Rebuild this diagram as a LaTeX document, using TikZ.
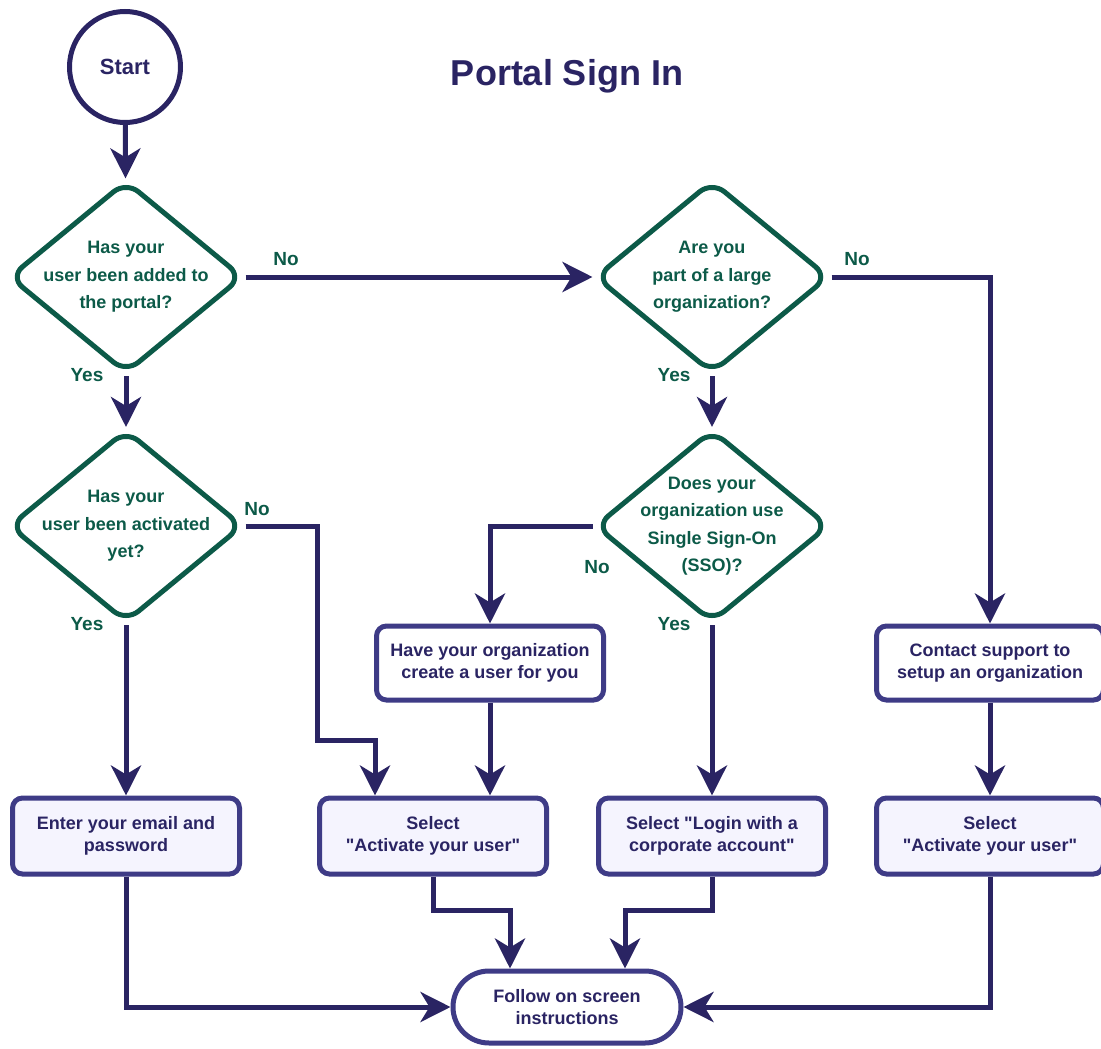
\documentclass[tikz,border=0pt]{standalone}
\usepackage{fontspec}
\setmainfont{Liberation Sans}
\usetikzlibrary{shapes.geometric,arrows.meta,positioning}
\definecolor{navy}{HTML}{2A2463}
\definecolor{boxline}{HTML}{3E3B86}
\definecolor{pine}{HTML}{0C5A48}
\definecolor{lavender}{HTML}{F5F4FE}
\tikzset{
  flow/.style={draw=navy, line width=5pt, -{Stealth[length=30pt,width=30pt,inset=9pt]}},
  decision/.style={diamond, draw=pine, line width=5pt, rounded corners=16pt,
    minimum width=234pt, minimum height=193pt, inner sep=0pt},
  qtext/.style={text=pine, font=\bfseries\fontsize{18}{27.5}\selectfont, align=center},
  stepbox/.style={draw=boxline, fill=white, line width=5pt, rounded corners=10pt,
    minimum width=227pt, minimum height=74pt, text=navy,
    font=\bfseries\fontsize{18}{22}\selectfont, align=center},
  endbox/.style={stepbox, fill=lavender, minimum height=76pt},
  answer/.style={text=pine, font=\bfseries\fontsize{19}{22}\selectfont},
}
\newcommand{\qq}{\textquotedbl}
\begin{document}
\begin{tikzpicture}[x=1pt, y=-1pt]
    \useasboundingbox (0,0) rectangle (1101,1049);
    %
    \node[circle, draw=navy, line width=5pt, minimum size=111pt, text=navy,
      font=\bfseries\fontsize{22}{24}\selectfont] (start) at (125,67) {Start};
    \node[text=navy, font=\bfseries\fontsize{36}{40}\selectfont] (title) at (567,76) {Portal Sign In};
    %
    \node[decision] (q1) at (126,277) {};
    \node[qtext] (q1text) at (q1) {Has your\\user been added to\\the portal?};
    \node[decision] (q2) at (126,526) {};
    \node[qtext] (q2text) at (q2) {Has your\\user been activated\\yet?};
    \node[decision] (q3) at (712,277) {};
    \node[qtext] (q3text) at (q3) {Are you\\part of a large\\organization?};
    \node[decision] (q4) at (712,526) {};
    \node[qtext] (q4text) at (q4) {Does your\\organization use\\Single Sign-On\\(SSO)?};
    %
    \node[stepbox] (orgbox) at (490,663) {Have your organization\\create a user for you};
    \node[stepbox] (support) at (990,663) {Contact support to\\setup an organization};
    \node[endbox] (email) at (126,836) {Enter your email and\\password};
    \node[endbox] (act1) at (433,836) {Select\\\qq Activate your user\qq};
    \node[endbox] (corp) at (712,836) {Select \qq Login with a\\corporate account\qq};
    \node[endbox] (act2) at (990,836) {Select\\\qq Activate your user\qq};
    \node[draw=boxline, fill=white, line width=5pt, rounded corners=36pt,
      minimum width=228pt, minimum height=72pt, text=navy,
      font=\bfseries\fontsize{18}{22}\selectfont, align=center] (follow) at (567,1007)
      {Follow on screen\\instructions};
    %
    \node[answer] (no1) at (286,259) {No};
    \node[answer] (yes1) at (87,375) {Yes};
    \node[answer] (no2) at (857,259) {No};
    \node[answer] (yes2) at (674,375) {Yes};
    \node[answer] (no3) at (257,509) {No};
    \node[answer] (yes3) at (87,624) {Yes};
    \node[answer] (no4) at (597,567) {No};
    \node[answer] (yes4) at (674,624) {Yes};
    %
    \draw[flow] (start) -- (q1);
    \draw[flow] (q1.south) -- (q2.north);
    \draw[flow] (q1.east) -- (q3.west);
    \draw[flow] (q3.east) -| (support.north);
    \draw[flow] (q3.south) -- (q4.north);
    \draw[flow] (q4.west) -| (orgbox.north);
    \draw[flow] (q4.south) -- (corp.north);
    \draw[flow] (q2.south) -- (email.north);
    \draw[flow] (q2.east) -| (317,740) -| ([xshift=-58pt]act1.north);
    \draw[flow] (orgbox.south) -- ([xshift=57pt]act1.north);
    \draw[flow] (support) -- (act2);
    %
    \draw[flow] (email.south) |- (follow.west);
    \draw[flow] (act2.south) |- (follow.east);
    \draw[flow] (act1.south) -- ++(0,34) -| ([xshift=-57pt]follow.north);
    \draw[flow] (corp.south) -- ++(0,34) -| ([xshift=58pt]follow.north);
  \end{tikzpicture}
\end{document}
